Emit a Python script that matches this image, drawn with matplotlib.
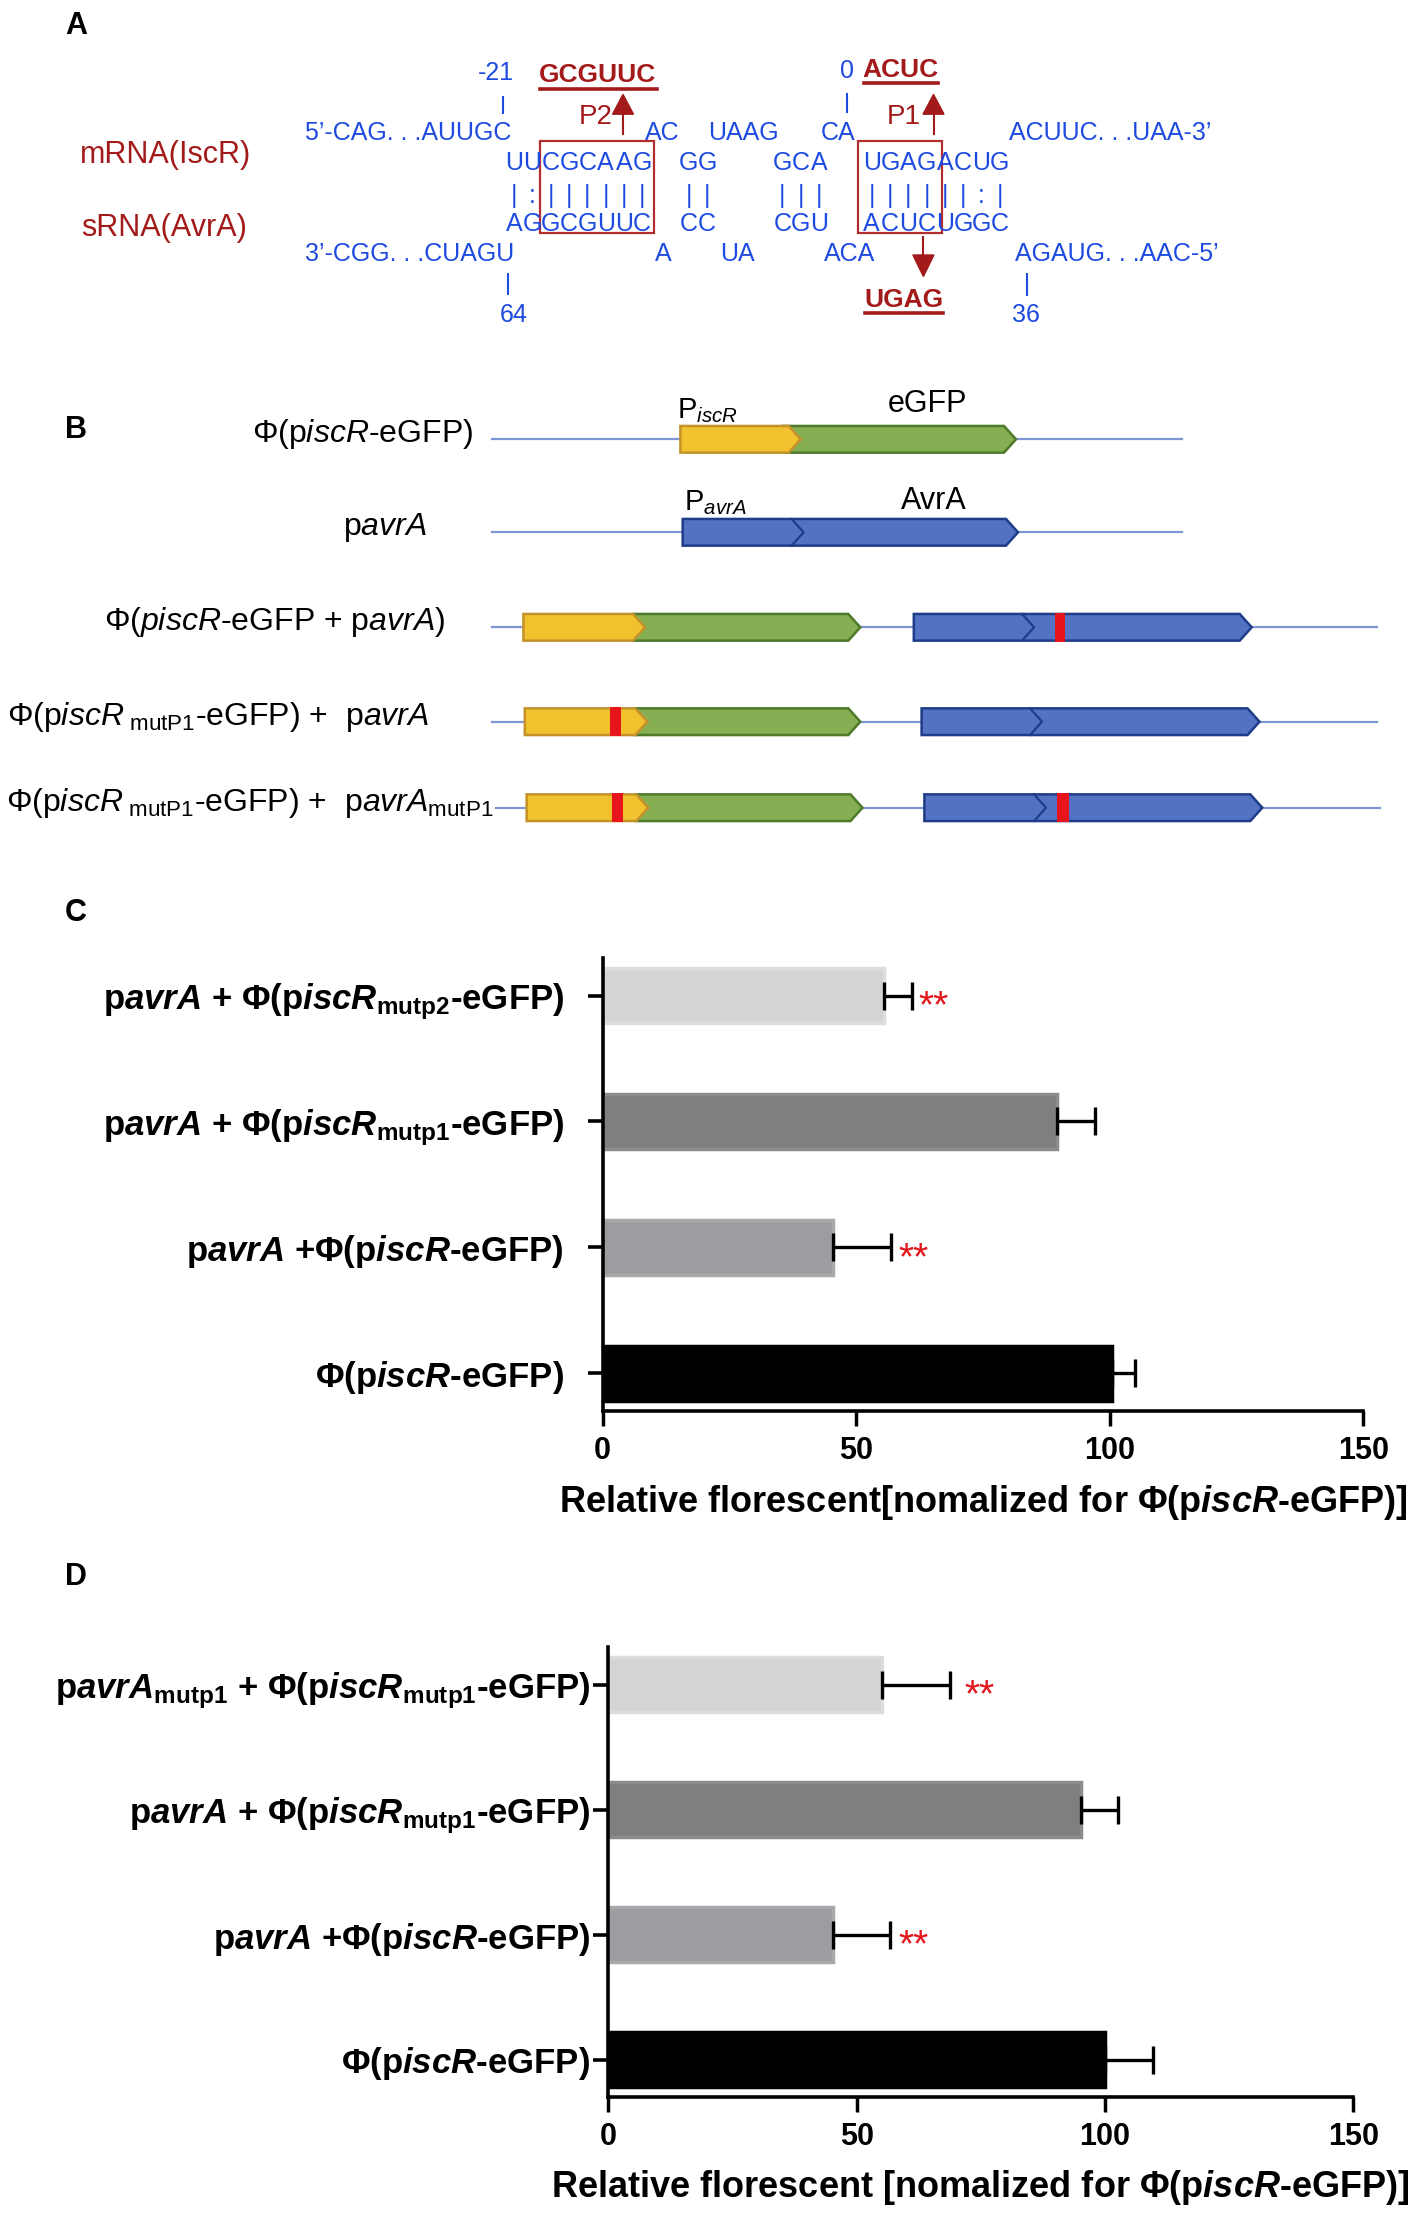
import numpy as np
import matplotlib
matplotlib.use('Agg')
import matplotlib.pyplot as plt
from matplotlib.patches import Polygon, Rectangle

plt.rcParams['font.family'] = ['Liberation Sans', 'DejaVu Sans']
plt.rcParams['mathtext.fontset'] = 'custom'
plt.rcParams['mathtext.rm'] = 'Liberation Sans'
plt.rcParams['mathtext.it'] = 'Liberation Sans:italic'
plt.rcParams['mathtext.bf'] = 'Liberation Sans:bold'
plt.rcParams['mathtext.bfit'] = 'Liberation Sans:italic:bold'

# ---------------- data ----------------
# Panel A: sRNA/mRNA pairing
mrna_label = "mRNA(IscR)"
srna_label = "sRNA(AvrA)"
mrna_5p = "5’-CAG. . .AUUGC"
mrna_3p = "ACUUC. . .UAA-3’"
srna_3p = "3’-CGG. . .CUAGU"
srna_5p = "AGAUG. . .AAC-5’"
mrna_loops = ["AC", "UAAG", "CA"]
srna_loops = ["A", "UA", "ACA"]
mrna_stems = ["UUCGCAAG", "GG", "GCA", "UGAGACUG"]
srna_stems = ["AGGCGUUC", "CC", "CGU", "ACUCUGGC"]
pairing = ["|:||||||", "||", "|||", "||||||:|"]
pos_labels = ["-21", "0", "64", "36"]
p2_mut = "GCGUUC"
p1_mut_mrna = "ACUC"
p1_mut_srna = "UGAG"
site_labels = ["P2", "P1"]

# Panel B: constructs
construct_labels = [
    r"Φ(p$\mathit{iscR}$-eGFP)",
    r"p$\mathit{avrA}$",
    r"Φ($\mathit{piscR}$-eGFP + p$\mathit{avrA)}$",
    r"Φ(p$\mathit{iscR}_{\ \mathrm{mutP1}}$-eGFP) +  p$\mathit{avrA}$",
    r"Φ(p$\mathit{iscR}_{\ \mathrm{mutP1}}$-eGFP) +  p$\mathit{avrA}_{\mathrm{mutP1}}$",
]

# Panel C
c_labels = [
    r"p$\mathbfit{avrA}$ + Φ(p$\mathbfit{iscR}_{\mathbf{mutp2}}$-eGFP)",
    r"p$\mathbfit{avrA}$ + Φ(p$\mathbfit{iscR}_{\mathbf{mutp1}}$-eGFP)",
    r"p$\mathbfit{avrA}$ +Φ(p$\mathbfit{iscR}$-eGFP)",
    r"Φ(p$\mathbfit{iscR}$-eGFP)",
]
c_values = [55.5, 89.5, 45.5, 100.4]
c_errors = [5.5, 7.5, 11.4, 4.5]
c_sig = ["**", "", "**", ""]
c_xlabel = r"Relative florescent[nomalized for Φ(p$\mathbfit{iscR}$-eGFP)]"

# Panel D
d_labels = [
    r"p$\mathbfit{avrA}_{\mathbf{mutp1}}$ + Φ(p$\mathbfit{iscR}_{\mathbf{mutp1}}$-eGFP)",
    r"p$\mathbfit{avrA}$ + Φ(p$\mathbfit{iscR}_{\mathbf{mutp1}}$-eGFP)",
    r"p$\mathbfit{avrA}$ +Φ(p$\mathbfit{iscR}$-eGFP)",
    r"Φ(p$\mathbfit{iscR}$-eGFP)",
]
d_values = [55.1, 95.2, 45.2, 100.1]
d_errors = [13.6, 7.5, 11.5, 9.5]
d_sig = ["**", "", "**", ""]
d_xlabel = r"Relative florescent [nomalized for Φ(p$\mathbfit{iscR}$-eGFP)]"

x_ticks = [0, 50, 100, 150]
bar_colors = ['#d4d4d4', '#7f7f7f', '#9d9da1', '#000000']
bar_edges = ['#dddddd', '#8b8b8b', '#a9a9ac', '#000000']

# ---------------- figure ----------------
W, H = 1418, 2217
fig = plt.figure(figsize=(W / 100, H / 100), dpi=100)
ax0 = fig.add_axes([0, 0, 1, 1])
ax0.set_xlim(0, W)
ax0.set_ylim(H, 0)
ax0.axis('off')

PX = 100 / 72.0
BLUE = '#1d4ae0'
DRED = '#a31a1a'


def T(x, yc, s, size, color='black', ha='center', weight='normal'):
    ax0.text(x, yc + 0.358 * size * PX, s, fontsize=size, color=color,
             ha=ha, va='baseline', fontweight=weight)


def vline(x, y0, y1, color=BLUE, lw=1.5):
    ax0.plot([x, x], [y0, y1], color=color, lw=lw, solid_capstyle='butt')


def arrow(x, y_start, y_base, y_tip, w=21):
    ax0.plot([x, x], [y_start, y_base], color=DRED, lw=1.5)
    ax0.add_patch(Polygon([(x - w / 2, y_base), (x + w / 2, y_base), (x, y_tip)],
                          closed=True, fc=DRED, ec=DRED, lw=1))


# ---- Panel A ----
T(75.8, 23.2, 'A', 22, weight='bold')
T(166, 152.3, mrna_label, 22, DRED)
T(164, 225.2, srna_label, 22, DRED)

Y1, Y2, Y3, Y4, Y5 = 130.8, 160.6, 193.7, 221.9, 252.3
T(305.3, Y1, mrna_5p, 18, BLUE, ha='left')
T(1009, Y1, mrna_3p, 18, BLUE, ha='left')
T(305.3, Y5, srna_3p, 18, BLUE, ha='left')
T(1015, Y5, srna_5p, 18, BLUE, ha='left')
for s, xc in zip(mrna_loops, [662, 743.5, 838.5]):
    T(xc, Y1, s, 18, BLUE)
for s, xc in zip(srna_loops, [663.4, 737.8, 850]):
    T(xc, Y5, s, 18, BLUE)
pitch = 18.3
for top, bot, pr, x0 in zip(mrna_stems, srna_stems, pairing, [505, 679.5, 773.3, 862.5]):
    for i, (a, b, p) in enumerate(zip(top, bot, pr)):
        xc = x0 + pitch * (i + 0.5)
        T(xc, Y2, a, 18, BLUE)
        T(xc, Y3, p, 18, BLUE)
        T(xc, Y4, b, 18, BLUE)

# position markers
T(495.9, 71.2, pos_labels[0], 18, BLUE)
vline(502.8, 96, 114)
T(847.4, 69.5, pos_labels[1], 18, BLUE)
vline(847.4, 93, 112.6)
T(513.3, 312.9, pos_labels[2], 18, BLUE)
vline(508.3, 273, 295)
T(1026, 313, pos_labels[3], 18, BLUE)
vline(1027, 273, 296)

# mutated sites
T(598, 72.8, p2_mut, 19, DRED, weight='bold')
ax0.plot([539.5, 657], [88.7, 88.7], color=DRED, lw=2.6)
T(900.8, 67.9, p1_mut_mrna, 19, DRED, weight='bold')
ax0.plot([863.5, 938], [82.8, 82.8], color=DRED, lw=2.6)
T(903.8, 298, p1_mut_srna, 19, DRED, weight='bold')
ax0.plot([864.8, 942.7], [313, 313], color=DRED, lw=2.6)
T(595.5, 114.2, site_labels[0], 20, DRED)
T(903.8, 114.2, site_labels[1], 20, DRED)
arrow(623, 134, 114.2, 94.4)
arrow(933.5, 134, 114.2, 94.4)
arrow(923.4, 236.8, 255, 276.5)
for bx0, bx1 in [(539.5, 654.3), (858, 941.8)]:
    ax0.add_patch(Rectangle((bx0, 140.7), bx1 - bx0, 233.4 - 140.7, fill=False,
                            ec='#b22e2e', lw=1.6))

# ---- Panel B ----
T(75.8, 426.7, 'B', 22, weight='bold')
LINE = '#7d96d6'
YEL, YEL_E = '#f2c12e', '#c4922a'
GRN, GRN_E = '#86ae53', '#4f7a2a'
BLU, BLU_E = '#5472c4', '#1f3c88'
RED = '#e8141c'
GH = 26.7


def gene(x0, x1, yc, fc, ec, tip=12, z=2):
    pts = [(x0, yc - GH / 2), (x1 - tip, yc - GH / 2), (x1, yc),
           (x1 - tip, yc + GH / 2), (x0, yc + GH / 2)]
    ax0.add_patch(Polygon(pts, closed=True, fc=fc, ec=ec, lw=1.8, zorder=z,
                          joinstyle='miter'))


def chevron(x, yc, ec, tip=12):
    ax0.plot([x, x + tip, x], [yc - GH / 2, yc, yc + GH / 2], color=ec, lw=1.6, zorder=4)


def mark(x0, x1, yc):
    ax0.add_patch(Rectangle((x0, yc - GH / 2 - 1), x1 - x0, GH + 2, fc=RED, ec='none', zorder=5))


def backbone(x0, x1, yc):
    ax0.plot([x0, x1], [yc, yc], color=LINE, lw=1.6, zorder=1)


rows = [439.3, 532.3, 627.3, 721.7, 807.7]
label_ends = [472.9, 427, 445.4, 429.3, 493.6]
for s, y, xe in zip(construct_labels, rows, label_ends):
    ax0.text(xe, y + 3, s, fontsize=23, ha='right', va='baseline')

# row 1
backbone(492.2, 1181.7, rows[0])
gene(782.4, 1016, rows[0], GRN, GRN_E, z=2)
gene(680.4, 800.7, rows[0], YEL, YEL_E, z=3)
ax0.text(677, 418.3, r"P$_{\mathit{iscR}}$", fontsize=21, ha='left', va='baseline')
ax0.text(927.8, 411.7, "eGFP", fontsize=22, ha='center', va='baseline')
# row 2
backbone(492.2, 1181.7, rows[1])
gene(682.7, 1018, rows[1], BLU, BLU_E)
chevron(791.6, rows[1], BLU_E)
ax0.text(684, 510, r"P$_{\mathit{avrA}}$", fontsize=21, ha='left', va='baseline')
ax0.text(933.5, 509.3, "AvrA", fontsize=22, ha='center', va='baseline')
# rows 3-5
yel_x = [(523.4, 645), (524.8, 647.4), (526.6, 648.3)]
grn_x = [(633.6, 860.3), (635, 860.3), (636.5, 862.5)]
blu_x = [(913.8, 1251.7), (921.6, 1259.5), (924.4, 1262.3)]
chev_x = [1022, 1030, 1034]
yel_marks = [None, (609.7, 620.7), (612, 623)]
blu_marks = [(1054.8, 1065.4), None, (1057, 1068.6)]
line_x = [(492.2, 1376.7), (492.2, 1376.7), (496, 1380)]
for k in range(3):
    y = rows[k + 2]
    backbone(line_x[k][0], line_x[k][1], y)
    gene(grn_x[k][0], grn_x[k][1], y, GRN, GRN_E, z=2)
    gene(yel_x[k][0], yel_x[k][1], y, YEL, YEL_E, z=3)
    gene(blu_x[k][0], blu_x[k][1], y, BLU, BLU_E, z=2)
    chevron(chev_x[k], y, BLU_E)
    if yel_marks[k]:
        mark(yel_marks[k][0], yel_marks[k][1], y)
    if blu_marks[k]:
        mark(blu_marks[k][0], blu_marks[k][1], y)


# ---- Panels C and D ----
def bar_panel(px_left, px_right, px_top, px_bottom, labels, values, errors, sig,
              star_gaps, ypad, xlabel, panel, panel_xy):
    ax = fig.add_axes([px_left / W, 1 - px_bottom / H,
                       (px_right - px_left) / W, (px_bottom - px_top) / H])
    ax.set_facecolor('none')
    y = np.arange(len(values))
    ax.barh(y, values, height=0.44, color=bar_colors, edgecolor=bar_edges,
            linewidth=2.5, zorder=2)
    ax.errorbar(values, y, xerr=[np.zeros(len(values)), errors], fmt='none',
                ecolor='black', elinewidth=2.4, capsize=10, capthick=2.4, zorder=3)
    for v, e, yy, s, g in zip(values, errors, y, sig, star_gaps):
        if s:
            ax.annotate(s, xy=(v + e, yy), xytext=(g, -16), textcoords='offset points',
                        ha='left', va='baseline', color='#e3161c', fontsize=28)
    ax.set_xlim(0, 150)
    ax.set_ylim(3.3, -0.3)
    ax.set_xticks(x_ticks)
    ax.set_xticklabels([str(t) for t in x_ticks], fontsize=22, fontweight='bold')
    ax.set_yticks(y)
    ax.set_yticklabels(labels, fontsize=25, fontweight='bold')
    for sp in ['top', 'right']:
        ax.spines[sp].set_visible(False)
    for sp in ['left', 'bottom']:
        ax.spines[sp].set_linewidth(2.6)
    ax.tick_params(axis='x', length=11, width=2.5, pad=7)
    ax.tick_params(axis='y', length=11, width=2.6, pad=ypad)
    ax.set_xlabel(xlabel, fontsize=26, fontweight='bold')
    ax.xaxis.label.set_va('center')
    ax.xaxis.set_label_coords(0.5, -(panel_xy[2] - px_bottom) / (px_bottom - px_top))
    T(panel_xy[0], panel_xy[1], panel, 22, weight='bold')
    return ax


bar_panel(602.7, 1363.3, 957.8, 1411, c_labels, c_values, c_errors, c_sig,
          [4.8, 0, 5, 0], 17, c_xlabel, 'C', (75.8, 910.4, 1503))
bar_panel(608.2, 1353.4, 1647, 2097, d_labels, d_values, d_errors, d_sig,
          [11, 0, 5.8, 0], 2, d_xlabel, 'D', (75.8, 1574, 2187.7))

fig.savefig('out.png', dpi=100)
